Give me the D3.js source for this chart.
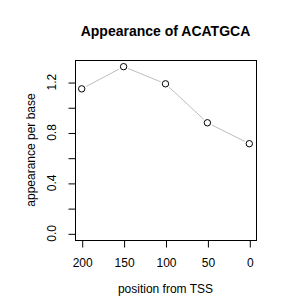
<!DOCTYPE html>
<html><head><meta charset="utf-8">
<script src="https://cdn.jsdelivr.net/npm/d3@7"></script>
<style>body{margin:0;background:#fff}svg{display:block}</style>
</head><body><script>
const positions = [200, 150, 100, 50, 0];
const values = [1.146, 1.322, 1.186, 0.877, 0.711];
const xTicks = [200, 150, 100, 50, 0];
const yTicks = [0, 0.2, 0.4, 0.6, 0.8, 1.0, 1.2];
const yLabelTicks = [0, 0.4, 0.8, 1.2];
const title = "Appearance of ACATGCA";
const xTitle = "position from TSS";
const yTitle = "appearance per base";

const W = 300, H = 300;
const box = {l: 75, r: 256, t: 60, b: 240};
const font = "Liberation Sans, Arial, Helvetica, sans-serif";

const svg = d3.select("body").append("svg").attr("width", W).attr("height", H);

const xMin = d3.min(positions), xMax = d3.max(positions);
const xPad = (xMax - xMin) * 0.04;
const x = d3.scaleLinear().domain([xMax + xPad, xMin - xPad]).range([box.l, box.r]);
const yMax = d3.max(values);
const yPad = yMax * 0.04;
const y = d3.scaleLinear().domain([-yPad, yMax + yPad]).range([box.b, box.t]);

// box
svg.append("rect").attr("x", box.l + 0.5).attr("y", box.t + 0.5)
  .attr("width", box.r - box.l).attr("height", box.b - box.t)
  .attr("fill", "none").attr("stroke", "#000").attr("stroke-width", 1);

// x axis
const xa = svg.append("g").attr("transform", `translate(0.5,${box.b + 0.5})`)
  .call(d3.axisBottom(x).tickValues(xTicks).tickSize(7).tickPadding(11).tickFormat(d3.format("d")));
xa.select(".domain").remove();
xa.selectAll("line").attr("stroke", "#000");
xa.selectAll("text").attr("font-family", font).attr("font-size", 12).attr("fill", "#000");

// y axis
const ya = svg.append("g").attr("transform", `translate(${box.l + 0.5},0.5)`)
  .call(d3.axisLeft(y).tickValues(yTicks).tickSize(7).tickFormat(""));
ya.select(".domain").remove();
ya.selectAll("line").attr("stroke", "#000");
svg.append("g").selectAll("text").data(yLabelTicks).join("text")
  .attr("transform", d => `translate(56,${y(d)}) rotate(-90)`)
  .attr("text-anchor", "middle")
  .attr("font-family", font).attr("font-size", 12).attr("fill", "#000")
  .text(d => d3.format(".1f")(d));

// titles
svg.append("text").attr("x", (box.l + box.r) / 2).attr("y", 36)
  .attr("text-anchor", "middle").attr("font-family", font).attr("font-size", 14)
  .attr("font-weight", "bold").text(title);
svg.append("text").attr("x", (box.l + box.r) / 2).attr("y", 293)
  .attr("text-anchor", "middle").attr("font-family", font).attr("font-size", 12).text(xTitle);
svg.append("text").attr("transform", `translate(35,${(box.t + box.b) / 2}) rotate(-90)`)
  .attr("text-anchor", "middle").attr("font-family", font).attr("font-size", 12).text(yTitle);

// line with gaps (type="b")
const pts = positions.map((p, i) => [x(p), y(values[i])]);
const gap = 5;
for (let i = 0; i < pts.length - 1; i++) {
  const [x1, y1] = pts[i], [x2, y2] = pts[i + 1];
  const len = Math.hypot(x2 - x1, y2 - y1);
  const ux = (x2 - x1) / len, uy = (y2 - y1) / len;
  svg.append("line")
    .attr("x1", x1 + ux * gap).attr("y1", y1 + uy * gap)
    .attr("x2", x2 - ux * gap).attr("y2", y2 - uy * gap)
    .attr("stroke", "#bebebe").attr("stroke-width", 1);
}
svg.append("g").selectAll("circle").data(pts).join("circle")
  .attr("cx", d => d[0]).attr("cy", d => d[1]).attr("r", 3.2)
  .attr("fill", "none").attr("stroke", "#000").attr("stroke-width", 1);
</script></body></html>
